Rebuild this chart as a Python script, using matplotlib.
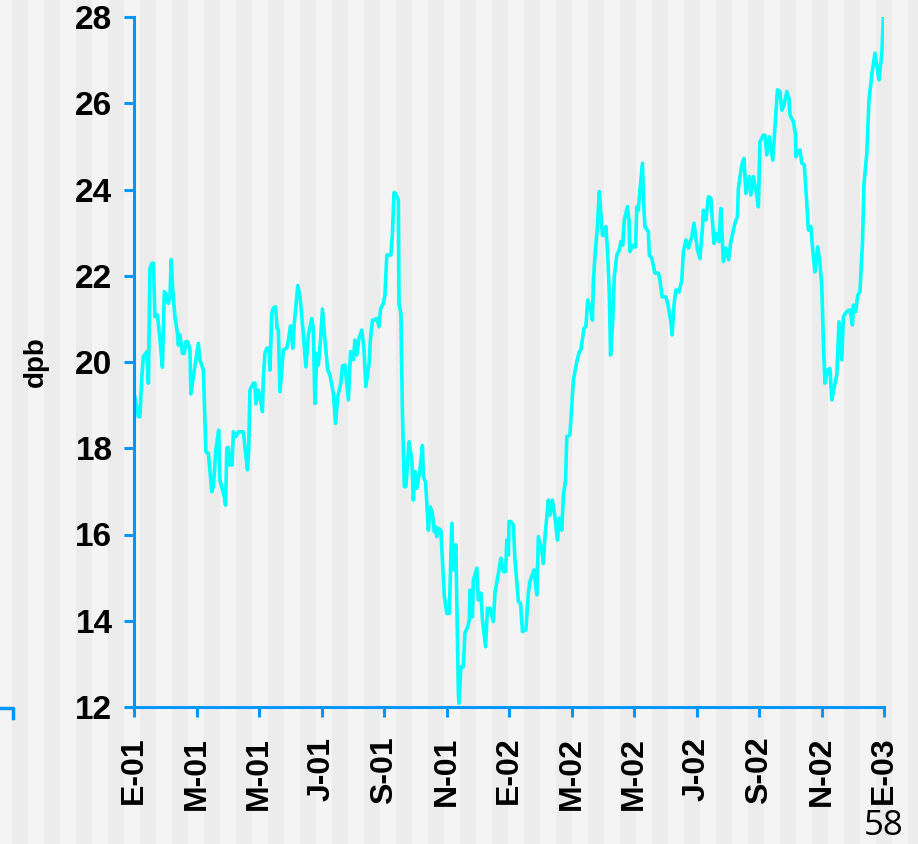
import matplotlib
matplotlib.use("Agg")
import matplotlib.pyplot as plt
from matplotlib.patches import Rectangle
from matplotlib.lines import Line2D

# --- datos: meses desde enero 2001, dpb ---
meses = [0.03, 0.14, 0.19, 0.25, 0.30, 0.41, 0.46, 0.51, 0.57, 0.62, 0.67, 0.75, 0.83, 0.91, 0.97, 1.02,
         1.10, 1.15, 1.19, 1.24, 1.31, 1.39, 1.42, 1.47, 1.55, 1.61, 1.66, 1.72, 1.79, 1.82, 1.90, 1.98,
         2.06, 2.11, 2.22, 2.30, 2.38, 2.49, 2.54, 2.62, 2.71, 2.75, 2.89, 2.93, 2.97, 3.02, 3.07, 3.14,
         3.18, 3.26, 3.34, 3.50, 3.55, 3.63, 3.67, 3.71, 3.82, 3.87, 3.90, 3.98, 4.03, 4.11, 4.14, 4.19,
         4.25, 4.32, 4.35, 4.41, 4.46, 4.53, 4.58, 4.62, 4.67, 4.78, 4.89, 4.94, 5.01, 5.08, 5.13, 5.24,
         5.31, 5.42, 5.50, 5.58, 5.69, 5.74, 5.79, 5.85, 5.90, 5.97, 6.03, 6.11, 6.20, 6.27, 6.38, 6.45,
         6.52, 6.62, 6.67, 6.75, 6.86, 6.93, 7.02, 7.07, 7.13, 7.20, 7.29, 7.36, 7.42, 7.53, 7.56, 7.63,
         7.69, 7.77, 7.84, 7.89, 7.98, 8.03, 8.09, 8.14,
         8.22, 8.27, 8.32, 8.37, 8.46, 8.48, 8.54, 8.59, 8.65, 8.70, 8.80, 8.89, 8.94, 8.99, 9.05, 9.15,
         9.23, 9.26, 9.33, 9.39, 9.42, 9.48, 9.55, 9.61, 9.66, 9.69, 9.74, 9.82, 9.93, 10.01, 10.09, 10.17,
         10.22, 10.30, 10.38, 10.40, 10.46, 10.54, 10.59, 10.68, 10.73, 10.75, 10.83, 10.86, 10.97, 11.02,
         11.10, 11.15, 11.25, 11.31, 11.39, 11.50, 11.55, 11.66, 11.74, 11.82, 11.89, 11.93, 11.98, 12.00,
         12.06, 12.14, 12.19, 12.25, 12.30, 12.37, 12.43, 12.54, 12.62, 12.67, 12.80, 12.89, 12.94, 13.05,
         13.10, 13.15, 13.26, 13.31, 13.39, 13.47, 13.55, 13.61, 13.69, 13.74, 13.81, 13.85, 13.95, 14.01,
         14.06, 14.17, 14.25, 14.30, 14.40, 14.46, 14.52, 14.61, 14.67, 14.70, 14.75, 14.83, 14.89, 14.93,
         14.99, 15.06, 15.10, 15.16, 15.21, 15.25, 15.32, 15.37, 15.45, 15.53, 15.58, 15.64, 15.69, 15.79,
         15.84, 15.87, 15.95, 16.00, 16.05, 16.09, 16.14, 16.17, 16.27, 16.32, 16.35, 16.46, 16.49, 16.57,
         16.67, 16.78, 16.83, 16.90, 17.02, 17.09, 17.18, 17.22, 17.28, 17.34, 17.44, 17.53, 17.58, 17.66,
         17.74, 17.85, 17.92, 18.03, 18.11, 18.19, 18.22, 18.30, 18.38, 18.46, 18.56, 18.65, 18.72, 18.78,
         18.86, 18.94, 19.03, 19.09, 19.23, 19.31, 19.34, 19.45, 19.52, 19.58, 19.69, 19.74, 19.82, 19.93,
         19.98, 20.03, 20.14, 20.19, 20.25, 20.33, 20.44, 20.48, 20.59, 20.67, 20.73, 20.80, 20.89, 20.96,
         20.99, 21.10, 21.17, 21.18, 21.26, 21.31, 21.37, 21.45, 21.53, 21.58, 21.66, 21.72, 21.79, 21.88,
         21.95, 22.01, 22.06, 22.11, 22.19, 22.27, 22.33, 22.41, 22.49, 22.56, 22.65, 22.70, 22.81, 22.91,
         22.99, 23.02, 23.09, 23.16, 23.23, 23.31, 23.36, 23.45, 23.52, 23.61, 23.71, 23.84, 23.93, 23.98]

dpb = [19.19, 18.73, 18.73, 19.66, 20.12, 20.24, 19.51, 22.17, 22.29, 22.29, 21.05, 21.09, 20.51, 19.88, 21.63, 21.59,
       21.36, 21.51, 22.37, 21.67, 21.05, 20.67, 20.39, 20.63, 20.20, 20.20, 20.47, 20.47, 20.28, 19.26, 19.66, 20.05,
       20.43, 20.05, 19.81, 17.92, 17.88, 16.99, 17.11, 17.96, 18.42, 17.26, 16.88, 16.68, 18.00, 18.02, 17.61, 17.61,
       18.38, 18.27, 18.38, 18.38, 18.04, 17.50, 17.96, 19.35, 19.51, 19.51, 19.03, 19.35, 19.19, 18.85, 19.66, 20.20,
       20.32, 20.32, 19.81, 21.13, 21.25, 21.28, 20.78, 20.74, 19.31, 20.28, 20.32, 20.51, 20.84, 20.32, 20.90, 21.77,
       21.55, 20.63, 19.89, 20.63, 21.01, 20.74, 19.04, 20.20, 19.93, 20.51, 21.23, 20.51, 19.81, 19.70, 19.27, 18.58,
       19.20, 19.51, 19.91, 19.93, 19.12, 20.24, 20.05, 20.51, 20.16, 20.55, 20.74, 20.28, 19.43, 20.01, 20.47, 20.97,
       20.97, 21.01, 20.82, 21.23, 21.36, 21.55, 22.48, 22.48,
       22.48, 22.98, 23.93, 23.91, 23.76, 21.36, 21.13, 18.81, 17.11, 17.11, 18.15, 17.73, 16.80, 17.46, 17.07, 17.50,
       18.06, 17.34, 17.22, 16.49, 16.10, 16.64, 16.49, 16.06, 16.18, 15.95, 16.14, 16.10, 14.56, 14.17, 14.17, 16.26,
       15.18, 15.76, 12.32, 12.09, 12.93, 12.93, 13.71, 13.86, 14.02, 14.71, 14.09, 14.94, 15.22, 14.48,
       14.64, 14.02, 13.40, 14.29, 14.29, 13.98, 14.64, 15.10, 15.45, 15.14, 15.14, 15.87, 15.52, 16.30,
       16.30, 16.22, 15.41, 14.91, 14.44, 14.40, 13.75, 13.79, 14.64, 14.91, 15.18, 14.60, 15.95, 15.64,
       15.33, 15.95, 16.80, 16.45, 16.80, 16.41, 15.87, 16.38, 16.10, 16.92, 17.26, 18.27, 18.31, 19.00,
       19.58, 20.01, 20.24, 20.28, 20.78, 20.82, 21.44, 21.25, 20.97, 21.86, 22.44, 23.14, 23.95, 23.52,
       22.94, 22.94, 23.14, 22.48, 21.59, 20.16, 20.97, 21.98, 22.48, 22.60, 22.79, 22.71, 23.29, 23.60,
       23.29, 22.56, 22.71, 22.67, 22.67, 23.60, 23.52, 23.83, 24.61, 23.52, 23.14, 23.02, 22.48, 22.40,
       22.06, 22.06, 21.90, 21.51, 21.51, 21.32, 20.93, 20.63, 21.32, 21.67, 21.62, 21.90, 22.56, 22.83,
       22.64, 22.91, 23.22, 22.60, 22.40, 23.10, 23.52, 23.29, 23.83, 23.80, 22.75, 22.98, 22.79, 23.56,
       22.33, 22.64, 22.37, 22.75, 23.22, 23.37, 24.03, 24.57, 24.72, 23.91, 24.30, 23.87, 24.30, 23.87,
       23.60, 25.11, 25.26, 25.26, 24.80, 25.22, 24.68, 25.11, 26.31, 26.27, 25.84, 25.96, 26.27, 26.11,
       25.73, 25.57, 25.26, 24.76, 24.88, 24.92, 24.61, 24.57, 23.68, 23.06, 23.14, 22.60, 22.09, 22.67,
       22.29, 21.75, 20.43, 19.51, 19.81, 19.85, 19.12, 19.43, 19.70, 20.93, 20.05, 21.05, 21.17, 21.21,
       20.86, 21.32, 21.17, 21.55, 21.63, 22.75, 24.14, 24.84, 26.08, 26.66, 27.16, 26.54, 27.16, 27.99]

etiquetas_x = ["E-01", "M-01", "M-01", "J-01", "S-01", "N-01", "E-02",
               "M-02", "M-02", "J-02", "S-02", "N-02", "E-03"]
pos_x = [0, 2, 4, 6, 8, 10, 12, 14, 16, 18, 20, 22, 24]
ticks_y = [12, 14, 16, 18, 20, 22, 24, 26, 28]

azul = "#0096ff"
cian = "#00ffff"

plt.rcParams["font.family"] = ["Liberation Sans", "DejaVu Sans"]
plt.rcParams["font.weight"] = "bold"

W, H = 918, 844
fig = plt.figure(figsize=(W / 100, H / 100), dpi=100, facecolor="#f4f4f4")

# franjas verticales del fondo
k = 0
while 12 + 32 * k < W:
    x0 = 12 + 32 * k
    fig.patches.append(Rectangle((x0 / W, 0), 16 / W, 1, transform=fig.transFigure,
                                 facecolor="#ececec", edgecolor="none", zorder=-10))
    k += 1

ax = fig.add_axes([134 / W, 137 / H, 750 / W, 690 / H])
ax.set_facecolor("none")

ax.plot(meses, dpb, color=cian, lw=2.6)

ax.set_xlim(0, 24)
ax.set_ylim(12, 28)
ax.set_xticks(pos_x)
ax.set_xticklabels(etiquetas_x, rotation=90, fontsize=23, fontweight="bold")
ax.set_yticks(ticks_y)
ax.set_yticklabels([str(v) for v in ticks_y], fontsize=24, fontweight="bold")

for lado in ["top", "right"]:
    ax.spines[lado].set_visible(False)
for lado in ["left", "bottom"]:
    ax.spines[lado].set_color(azul)
    ax.spines[lado].set_linewidth(2.2)

ax.tick_params(axis="y", direction="out", length=7.5, width=2.2, color=azul, pad=8)
ax.tick_params(axis="x", direction="out", length=7.5, width=2.2, color=azul, pad=14)

ax.set_ylabel("dpb", fontsize=20, fontweight="bold")
ax.yaxis.set_label_coords(-0.114, 0.5)

# trozo de marco azul a la izquierda
fig.lines.append(Line2D([0, 13 / W, 13 / W], [1 - 708 / H, 1 - 708 / H, 1 - 718 / H],
                        transform=fig.transFigure, color=azul, lw=2.5))

fig.text(904 / W, 1 / H, "58", ha="right", va="bottom", fontsize=25,
         fontweight="normal", family=["Open Sans", "DejaVu Sans"])

fig.savefig("out.png", dpi=100, facecolor=fig.get_facecolor())
